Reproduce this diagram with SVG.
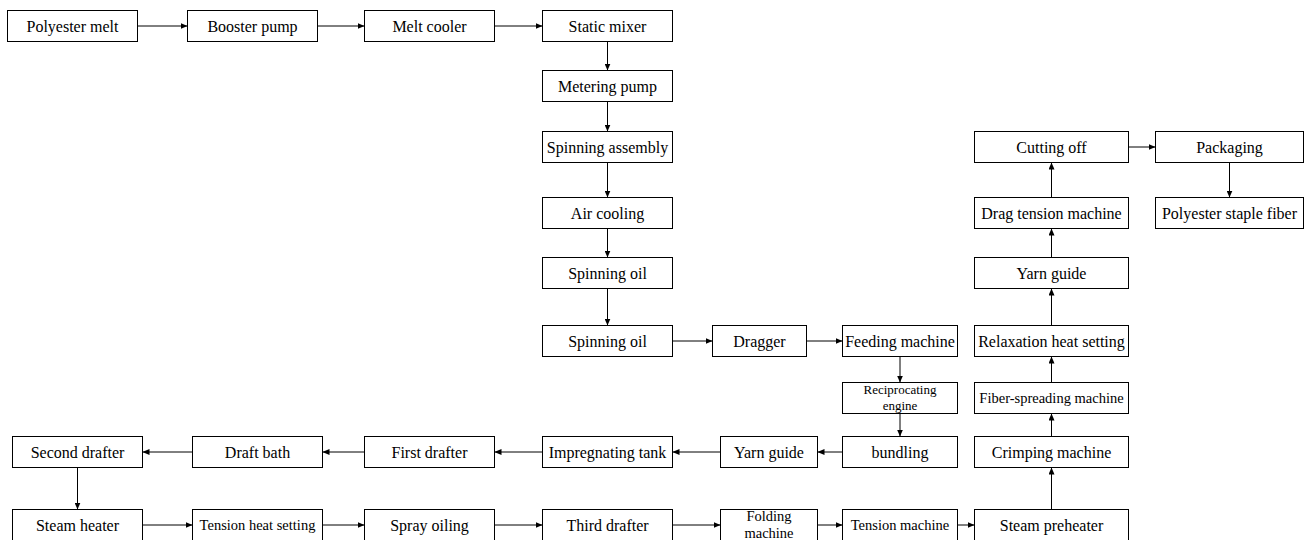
<svg xmlns="http://www.w3.org/2000/svg" width="1307" height="540" viewBox="0 0 1307 540">
<style>
.b{fill:#fff;stroke:#000;stroke-width:1}
.t{font-family:"Liberation Serif","Times New Roman",serif;font-size:16px;text-anchor:middle;fill:#000}
.s{font-size:14.5px}
.xs{font-size:13px}
.c line{stroke:#000;stroke-width:1;marker-end:url(#ah)}
</style>
<defs>
<marker id="ah" markerUnits="userSpaceOnUse" markerWidth="7" markerHeight="6" refX="7" refY="3" orient="auto">
<path d="M0,0 L7,3 L0,6 z" fill="#000"/>
</marker>
</defs>
<rect width="1307" height="540" fill="#fff"/>
<g class="c">
<line x1="137.5" y1="26" x2="187.5" y2="26"/>
<line x1="317.5" y1="26" x2="364.5" y2="26"/>
<line x1="494.5" y1="26" x2="542.5" y2="26"/>
<line x1="607.5" y1="41.5" x2="607.5" y2="70.5"/>
<line x1="607.5" y1="101.5" x2="607.5" y2="131.5"/>
<line x1="607.5" y1="162.5" x2="607.5" y2="197.5"/>
<line x1="607.5" y1="228.5" x2="607.5" y2="257.5"/>
<line x1="607.5" y1="288.5" x2="607.5" y2="325.5"/>
<line x1="672.5" y1="341" x2="712.5" y2="341"/>
<line x1="806.5" y1="341" x2="842.5" y2="341"/>
<line x1="900" y1="356.5" x2="900" y2="382.5"/>
<line x1="900" y1="413.5" x2="900" y2="436.5"/>
<line x1="842.5" y1="452" x2="817.5" y2="452"/>
<line x1="720.5" y1="452" x2="672.5" y2="452"/>
<line x1="542.5" y1="452" x2="494.5" y2="452"/>
<line x1="364.5" y1="452" x2="322.5" y2="452"/>
<line x1="192.5" y1="452" x2="142.5" y2="452"/>
<line x1="77.5" y1="467.5" x2="77.5" y2="509.5"/>
<line x1="142.5" y1="525" x2="192.5" y2="525"/>
<line x1="322.5" y1="525" x2="364.5" y2="525"/>
<line x1="494.5" y1="525" x2="542.5" y2="525"/>
<line x1="672.5" y1="525" x2="720.5" y2="525"/>
<line x1="817.5" y1="525" x2="842.5" y2="525"/>
<line x1="957.5" y1="525" x2="974.5" y2="525"/>
<line x1="1051.5" y1="509.5" x2="1051.5" y2="467.5"/>
<line x1="1051.5" y1="436.5" x2="1051.5" y2="413.5"/>
<line x1="1051.5" y1="382.5" x2="1051.5" y2="356.5"/>
<line x1="1051.5" y1="325.5" x2="1051.5" y2="288.5"/>
<line x1="1051.5" y1="257.5" x2="1051.5" y2="228.5"/>
<line x1="1051.5" y1="197.5" x2="1051.5" y2="162.5"/>
<line x1="1128.5" y1="147" x2="1155.5" y2="147"/>
<line x1="1229.5" y1="162.5" x2="1229.5" y2="197.5"/>
</g>
<g id="n1"><rect class="b" x="7.5" y="10.5" width="130" height="31"/><text class="t" x="72.5" y="32">Polyester melt</text></g>
<g id="n2"><rect class="b" x="187.5" y="10.5" width="130" height="31"/><text class="t" x="252.5" y="32">Booster pump</text></g>
<g id="n3"><rect class="b" x="364.5" y="10.5" width="130" height="31"/><text class="t" x="429.5" y="32">Melt cooler</text></g>
<g id="n4"><rect class="b" x="542.5" y="10.5" width="130" height="31"/><text class="t" x="607.5" y="32">Static mixer</text></g>
<g id="n5"><rect class="b" x="542.5" y="70.5" width="130" height="31"/><text class="t" x="607.5" y="92">Metering pump</text></g>
<g id="n6"><rect class="b" x="542.5" y="131.5" width="130" height="31"/><text class="t" x="607.5" y="153">Spinning assembly</text></g>
<g id="n7"><rect class="b" x="542.5" y="197.5" width="130" height="31"/><text class="t" x="607.5" y="219">Air cooling</text></g>
<g id="n8"><rect class="b" x="542.5" y="257.5" width="130" height="31"/><text class="t" x="607.5" y="279">Spinning oil</text></g>
<g id="n9"><rect class="b" x="542.5" y="325.5" width="130" height="31"/><text class="t" x="607.5" y="347">Spinning oil</text></g>
<g id="n10"><rect class="b" x="712.5" y="325.5" width="94" height="31"/><text class="t" x="759.5" y="347">Dragger</text></g>
<g id="n11"><rect class="b" x="842.5" y="325.5" width="115" height="31"/><text class="t" x="900" y="347">Feeding machine</text></g>
<g id="n12"><rect class="b" x="842.5" y="382.5" width="115" height="31"/><text class="t xs" x="900" y="394">Reciprocating</text><text class="t xs" x="900" y="410">engine</text></g>
<g id="n13"><rect class="b" x="842.5" y="436.5" width="115" height="31"/><text class="t" x="900" y="458">bundling</text></g>
<g id="n14"><rect class="b" x="720.5" y="436.5" width="97" height="31"/><text class="t" x="769" y="458">Yarn guide</text></g>
<g id="n15"><rect class="b" x="542.5" y="436.5" width="130" height="31"/><text class="t" x="607.5" y="458">Impregnating tank</text></g>
<g id="n16"><rect class="b" x="364.5" y="436.5" width="130" height="31"/><text class="t" x="429.5" y="458">First drafter</text></g>
<g id="n17"><rect class="b" x="192.5" y="436.5" width="130" height="31"/><text class="t" x="257.5" y="458">Draft bath</text></g>
<g id="n18"><rect class="b" x="12.5" y="436.5" width="130" height="31"/><text class="t" x="77.5" y="458">Second drafter</text></g>
<g id="n19"><rect class="b" x="12.5" y="509.5" width="130" height="31"/><text class="t" x="77.5" y="531">Steam heater</text></g>
<g id="n20"><rect class="b" x="192.5" y="509.5" width="130" height="31"/><text class="t s" x="257.5" y="530">Tension heat setting</text></g>
<g id="n21"><rect class="b" x="364.5" y="509.5" width="130" height="31"/><text class="t" x="429.5" y="531">Spray oiling</text></g>
<g id="n22"><rect class="b" x="542.5" y="509.5" width="130" height="31"/><text class="t" x="607.5" y="531">Third drafter</text></g>
<g id="n23"><rect class="b" x="720.5" y="509.5" width="97" height="31"/><text class="t s" x="769" y="521">Folding</text><text class="t s" x="769" y="538">machine</text></g>
<g id="n24"><rect class="b" x="842.5" y="509.5" width="115" height="31"/><text class="t s" x="900" y="530">Tension machine</text></g>
<g id="n25"><rect class="b" x="974.5" y="509.5" width="154" height="31"/><text class="t" x="1051.5" y="531">Steam preheater</text></g>
<g id="n26"><rect class="b" x="974.5" y="436.5" width="154" height="31"/><text class="t" x="1051.5" y="458">Crimping machine</text></g>
<g id="n27"><rect class="b" x="974.5" y="382.5" width="154" height="31"/><text class="t s" x="1051.5" y="403">Fiber-spreading machine</text></g>
<g id="n28"><rect class="b" x="974.5" y="325.5" width="154" height="31"/><text class="t" x="1051.5" y="347">Relaxation heat setting</text></g>
<g id="n29"><rect class="b" x="974.5" y="257.5" width="154" height="31"/><text class="t" x="1051.5" y="279">Yarn guide</text></g>
<g id="n30"><rect class="b" x="974.5" y="197.5" width="154" height="31"/><text class="t" x="1051.5" y="219">Drag tension machine</text></g>
<g id="n31"><rect class="b" x="974.5" y="131.5" width="154" height="31"/><text class="t" x="1051.5" y="153">Cutting off</text></g>
<g id="n32"><rect class="b" x="1155.5" y="131.5" width="148" height="31"/><text class="t" x="1229.5" y="153">Packaging</text></g>
<g id="n33"><rect class="b" x="1155.5" y="197.5" width="148" height="31"/><text class="t" x="1229.5" y="219">Polyester staple fiber</text></g>
</svg>
